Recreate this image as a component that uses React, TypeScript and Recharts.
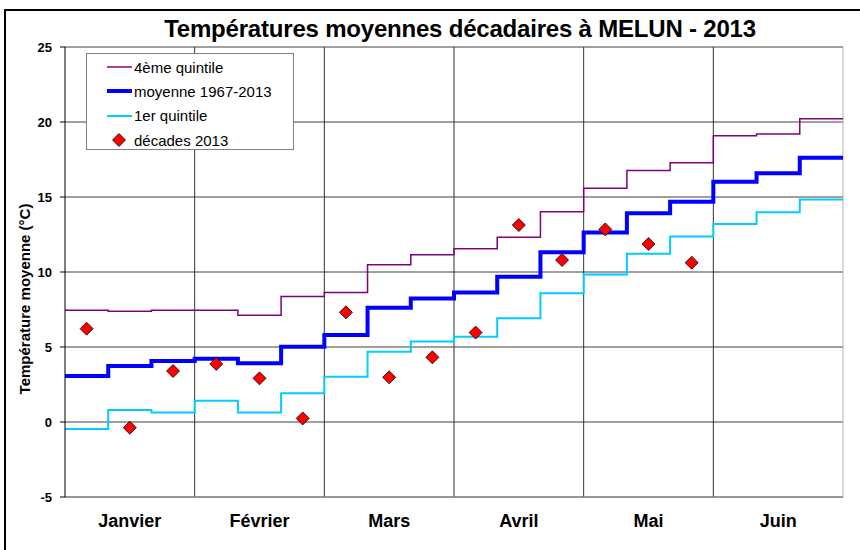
import React from "react";
import {
    ComposedChart,
    Line,
    Scatter,
    XAxis,
    YAxis,
    CartesianGrid,
    ReferenceLine,
    Legend,
} from "recharts";

const months = ["Janvier", "Février", "Mars", "Avril", "Mai", "Juin"];

// one value per decade, Jan 1st decade -> Jun 3rd decade
const quintile4 = [7.45, 7.38, 7.45, 7.45, 7.11, 8.36, 8.64, 10.49, 11.15, 11.55, 12.31, 14.02, 15.58, 16.76, 17.29, 19.09, 19.2, 20.22];
const moyenne = [3.07, 3.73, 4.07, 4.22, 3.91, 5.02, 5.8, 7.62, 8.24, 8.64, 9.69, 11.31, 12.64, 13.91, 14.69, 16.02, 16.58, 17.62];
const quintile1 = [-0.47, 0.8, 0.64, 1.42, 0.64, 1.91, 3.02, 4.69, 5.36, 5.69, 6.91, 8.58, 9.84, 11.22, 12.36, 13.2, 13.98, 14.84];
const decades2013 = [6.22, -0.38, 3.4, 3.87, 2.91, 0.24, 7.31, 2.98, 4.31, 5.96, 13.13, 10.8, 12.84, 11.87, 10.62];

const yTicks = [-5, 0, 5, 10, 15, 20, 25];

// rows at each decade start, plus a closing row so the last step runs to the edge
const last = quintile4.length - 1;
const stepData = quintile4.map((_, i) => ({
    x: i,
    q4: quintile4[i],
    moy: moyenne[i],
    q1: quintile1[i],
}));
stepData.push({ x: last + 1, q4: quintile4[last], moy: moyenne[last], q1: quintile1[last] });

const pointData = decades2013.map((t, i) => ({ x: i + 0.5, t }));
const monthTicks = months.map((_, i) => i * 3 + 1.5);
const monthBounds = months.map((_, i) => (i + 1) * 3);

const FONT = "'Liberation Sans', Arial, sans-serif";

const Diamond = (props: any) => {
    const { cx, cy } = props;
    if (cx == null || cy == null) return null;
    const r = 6.5;
    return (
        <polygon
            points={`${cx},${cy - r} ${cx + r},${cy} ${cx},${cy + r} ${cx - r},${cy}`}
            fill="#ff0000"
            stroke="#000"
            strokeWidth={0.8}
        />
    );
};

const legendItems = [
    { label: "4ème quintile", color: "#800080", width: 1.5 },
    { label: "moyenne 1967-2013", color: "#0000ff", width: 4 },
    { label: "1er quintile", color: "#00ccff", width: 2 },
    { label: "décades 2013", marker: true },
];

const renderLegend = () => (
    <div
        style={{
            width: 208,
            height: 97,
            boxSizing: "border-box",
            border: "1px solid #808080",
            background: "#fff",
            fontFamily: FONT,
            fontSize: 15,
            color: "#000",
            paddingTop: 1,
        }}
    >
        {legendItems.map((item) => (
            <div key={item.label} style={{ display: "flex", alignItems: "center", height: 24.3 }}>
                <svg width={47} height={24} style={{ flex: "none" }}>
                    {item.marker ? (
                        <Diamond cx={32} cy={12} />
                    ) : (
                        <line x1={20} x2={45} y1={12} y2={12} stroke={item.color} strokeWidth={item.width} />
                    )}
                </svg>
                <span style={{ whiteSpace: "nowrap" }}>{item.label}</span>
            </div>
        ))}
    </div>
);

const YLabel = (props: any) => {
    const { x, y, height } = props.viewBox;
    const cx = x + 19;
    const cy = y + height / 2 + 27;
    return (
        <text
            x={cx}
            y={cy}
            transform={`rotate(-90, ${cx}, ${cy})`}
            textAnchor="middle"
            dominantBaseline="central"
            fontFamily={FONT}
            fontWeight="bold"
            fontSize={15}
            fill="#000"
        >
            Température moyenne (°C)
        </text>
    );
};

export default function App() {
    return (
        <div
            style={{
                position: "absolute",
                left: 0,
                top: 0,
                width: 860,
                height: 550,
                overflow: "hidden",
                background: "#fff",
            }}
        >
            <div
                style={{
                    position: "absolute",
                    left: 4,
                    top: 9,
                    width: 900,
                    height: 600,
                    border: "2px solid #000",
                }}
            />
            <div
                style={{
                    position: "absolute",
                    left: 30,
                    top: 15,
                    width: 860,
                    textAlign: "center",
                    fontFamily: FONT,
                    fontWeight: "bold",
                    fontSize: 24,
                    lineHeight: "27px",
                    letterSpacing: -0.2,
                    color: "#000",
                }}
            >
                Températures moyennes décadaires à MELUN - 2013
            </div>
            <div style={{ position: "absolute", left: 0, top: 0 }}>
                <ComposedChart
                    width={860}
                    height={550}
                    data={stepData}
                    margin={{ top: 47, right: 17, bottom: 23, left: 5 }}
                >
                    <CartesianGrid vertical={false} stroke="#404040" strokeWidth={1} />
                    {monthBounds.map((b) => (
                        <ReferenceLine
                            key={b}
                            x={b}
                            stroke={b === 18 ? "#b0b0b0" : "#333"}
                            strokeWidth={1}
                        />
                    ))}
                    <XAxis
                        dataKey="x"
                        type="number"
                        domain={[0, 18]}
                        ticks={monthTicks}
                        tickFormatter={(v: number) => months[Math.floor(v / 3)]}
                        tickLine={false}
                        tickMargin={11}
                        axisLine={{ stroke: "#909090" }}
                        tick={{ fontFamily: FONT, fontWeight: "bold", fontSize: 18, fill: "#000" }}
                        height={30}
                    />
                    <YAxis
                        type="number"
                        domain={[-5, 25]}
                        ticks={yTicks}
                        width={60}
                        tickSize={5}
                        tickMargin={8}
                        axisLine={{ stroke: "#000" }}
                        tickLine={{ stroke: "#000" }}
                        tick={{ fontFamily: FONT, fontWeight: "bold", fontSize: 13, fill: "#000" }}
                        label={<YLabel />}
                    />
                    <Legend
                        content={renderLegend}
                        layout="vertical"
                        align="center"
                        verticalAlign="middle"
                        wrapperStyle={{ left: 86, top: 53, width: 208, height: 97 }}
                    />
                    <Line
                        type="stepAfter"
                        dataKey="q4"
                        name="4ème quintile"
                        stroke="#800080"
                        strokeWidth={1.5}
                        dot={false}
                        isAnimationActive={false}
                    />
                    <Line
                        type="stepAfter"
                        dataKey="moy"
                        name="moyenne 1967-2013"
                        stroke="#0000ff"
                        strokeWidth={4}
                        dot={false}
                        isAnimationActive={false}
                    />
                    <Line
                        type="stepAfter"
                        dataKey="q1"
                        name="1er quintile"
                        stroke="#00ccff"
                        strokeWidth={2}
                        dot={false}
                        isAnimationActive={false}
                    />
                    <Scatter
                        data={pointData}
                        dataKey="t"
                        name="décades 2013"
                        shape={<Diamond />}
                        isAnimationActive={false}
                    />
                </ComposedChart>
            </div>
        </div>
    );
}
